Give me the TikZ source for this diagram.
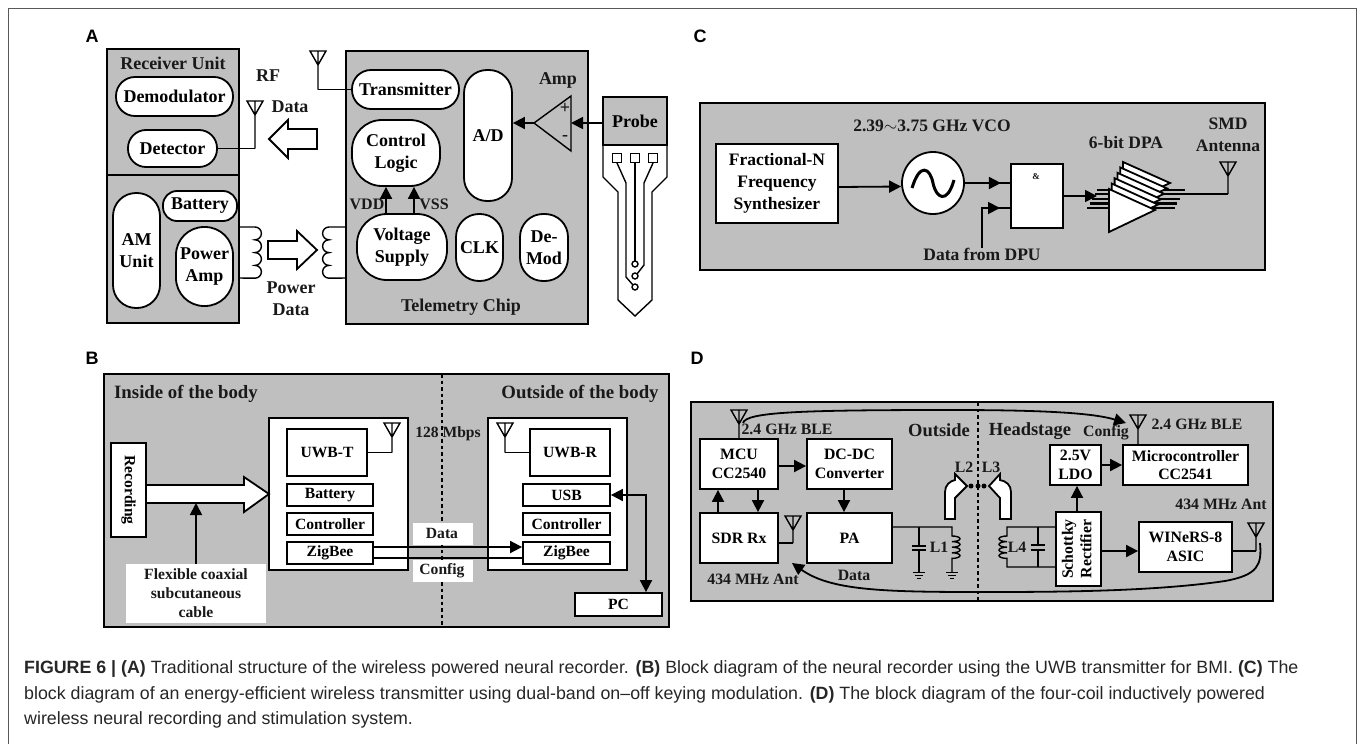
\documentclass[tikz,border=0pt]{standalone}
\usepackage{fontspec}
\setmainfont{Liberation Serif}
\newfontfamily\capfont{Liberation Sans}
\usetikzlibrary{positioning, calc, arrows.meta}
\definecolor{panelgray}{gray}{0.75}
\definecolor{framegray}{gray}{0.35}
\definecolor{captext}{gray}{0.15}
\newcommand{\panelfont}{\bfseries\fontsize{18}{22}\selectfont}
\tikzset{
    panel/.style={draw, line width=1.8pt, fill=panelgray},
    block/.style={draw, line width=1.8pt, fill=white, font=\panelfont, align=center, inner sep=0pt},
    pill/.style={block, rounded corners=#1},
    lbl/.style={font=\panelfont, align=center, inner sep=0pt, text=black!90},
    tagbg/.style={fill=white, inner sep=0pt},
    letter/.style={font=\capfont\bfseries\fontsize{18}{20}\selectfont, inner sep=0pt},
    wire/.style={line width=1.4pt},
    link/.style={line width=1.8pt},
    flow/.style={line width=1.8pt, -{Triangle[length=12pt,width=12pt]}},
    hollow/.style={draw, line width=1.8pt, fill=white, line join=miter},
    sep/.style={line width=2pt, dash pattern=on 3.5pt off 3pt},
    caption/.style={font=\capfont\fontsize{17.8}{20}\selectfont, anchor=base west, inner sep=0pt, text=captext},
}
% antenna: name, x, top, foot
\newcommand{\antenna}[4]{%
    \coordinate (#1) at (#2,#4);
    \draw[wire, line join=miter] (#1) -- (#2,#3+14) -- (#2-8,#3) -- (#2+8,#3) -- (#2,#3+14) -- (#2,#3);
}
% box given by its corners
\newcommand{\rbox}[7]{%
    \node[#2, minimum width=#6pt-#4pt, minimum height=#7pt-#5pt] (#1) at ({(#4+#6)/2},{(#5+#7)/2}) {#3};
}
\begin{document}
\begin{tikzpicture}[x=1pt, y=-1pt, >=Stealth]
    \useasboundingbox (0,0) rectangle (1358,744);

    % ==========================================
    % Frame and panel letters
    % ==========================================
    \draw[framegray, line width=1pt] (8,744) -- (8,8) -- (1356,8) -- (1356,744);
    \node[letter] (letterA) at (92,36) {A};
    \node[letter] (letterB) at (92,358) {B};
    \node[letter] (letterC) at (700,36) {C};
    \node[letter] (letterD) at (697,358) {D};

    % ==========================================
    % PANEL A: Wireless powered recorder
    % ==========================================
    \draw[panel] (107,49) rectangle (239,323);
    \draw[link] (107,175) -- (239,175);
    \node[lbl] (recvtitle) at (173,63) {Receiver Unit};
    \rbox{demod}{pill=19pt}{Demodulator}{116}{77}{233}{116}
    \rbox{detector}{pill=18pt}{Detector}{128}{130}{217}{167}
    \rbox{amunit}{pill=23pt}{AM\\Unit}{113}{193}{160}{308}
    \rbox{battery}{pill=14pt}{Battery}{163}{191}{237}{221}
    \rbox{poweramp}{pill=28pt}{Power\\Amp}{176}{227}{233}{306}

    \antenna{antdet}{255}{101}{148.5}
    \draw[wire] (detector.east) -- (antdet);
    \node[lbl] (rflabel) at (268,76) {RF};
    \node[lbl] (datalabel) at (290,107) {Data};
    \draw[hollow] (317,129) -- (288,129) -- (288,120) -- (269,139) -- (288,158) -- (288,149) -- (317,149) -- cycle;

    % Coils
    \draw[wire] (239,227) -- (255,227) arc (-90:90:6.4) arc (-90:90:6.4) arc (-90:90:6.4) arc (-90:90:6.4) -- (239,278);
    \draw[wire] (346,227) -- (329,227) arc (270:90:6.4) arc (270:90:6.4) arc (270:90:6.4) arc (270:90:6.4) -- (346,278);
    \draw[hollow] (268,241) -- (297,241) -- (297,231) -- (317,250) -- (297,269) -- (297,259) -- (268,259) -- cycle;
    \node[lbl] (powerlabel) at (291,298.5) {Power\\Data};

    % Telemetry chip
    \draw[panel] (346,51) rectangle (588,324);
    \rbox{transmitter}{pill=19pt}{Transmitter}{352}{70}{459}{109}
    \rbox{logic}{pill=30pt}{Control\\Logic}{352}{120}{440}{186}
    \rbox{adc}{pill=23pt}{A/D}{464}{70}{512}{201}
    \rbox{supply}{pill=30pt}{Voltage\\Supply}{357}{214}{447}{280}
    \rbox{clk}{pill=23pt}{CLK}{456}{214}{503}{281}
    \rbox{demodchip}{pill=23pt}{De-\\Mod}{520}{214}{568}{281}
    \node[lbl] (chiplabel) at (461,307) {Telemetry Chip};
    \node[lbl] (vddlabel) at (367,204) {\fontsize{16}{18}\selectfont VDD};
    \node[lbl] (vsslabel) at (434,204) {\fontsize{16}{18}\selectfont VSS};
    \draw[flow] ([xshift=-16pt]supply.north) -- ([xshift=-10pt]logic.south);
    \draw[flow] ([xshift=12pt]supply.north) -- ([xshift=18pt]logic.south);
    \antenna{anttx}{318}{51}{89.5}
    \draw[wire] (anttx) -- (transmitter.west);

    % Amplifier
    \coordinate (ampout) at (534,123);
    \coordinate (ampin) at (571,123);
    \draw[wire, line join=miter] (ampout) -- (571,96) -- (571,151) -- cycle;
    \node[lbl] (amplabel) at (558,80) {Amp};
    \node[lbl] (ampplus) at (565,108) {+};
    \node[lbl] (ampminus) at (565,138) {-};
    \draw[flow] (ampout) -- (ampout -| adc.east);

    % Probe
    \rbox{probe}{block, fill=panelgray}{Probe}{603}{97}{667}{145}
    \draw[wire] (603,145) -- (603,177) -- (618,192) -- (618,300) -- (635,316) -- (652,300) -- (652,192) -- (667,177) -- (667,145);
    \draw[flow] ([yshift=-2pt]probe.west) -- (ampin);
    \foreach \px in {617,635,653}
        \draw[wire] (\px-4.5,153.5) rectangle (\px+4.5,162.5);
    \draw[wire] (617,163) -- (626,183) -- (626,277) -- (633,285);
    \draw[wire] (635,163) -- (635,261);
    \draw[wire] (653,163) -- (644,183) -- (644,265) -- (637,274);
    \foreach \py in {264,276,287}
        \draw[wire] (635,\py) circle (3);

    % ==========================================
    % PANEL B: UWB recorder
    % ==========================================
    \renewcommand{\panelfont}{\bfseries\fontsize{15.6}{19}\selectfont}
    \draw[panel] (104,374) rectangle (669,627);
    \draw[sep] (442,374) -- (442,627);
    \node[lbl] (insidelabel) at (186,394) {\fontsize{18.8}{20}\selectfont Inside of the body};
    \node[lbl] (outsidelabel) at (580,394) {\fontsize{18.8}{20}\selectfont Outside of the body};
    \draw[link, fill=white] (269,418) rectangle (408,570);
    \draw[link, fill=white] (488,418) rectangle (627,570);
    \rbox{recording}{block}{\rotatebox{-90}{Recording}}{111}{443}{146}{537}
    \rbox{uwbt}{block}{UWB-T}{287}{429}{367}{476}
    \rbox{batteryT}{block}{Battery}{287}{484}{373}{506}
    \rbox{controlT}{block}{Controller}{287}{513}{373}{535}
    \rbox{zigbeeT}{block}{ZigBee}{287}{542}{373}{564}
    \rbox{uwbr}{block}{UWB-R}{530}{429}{610}{476}
    \rbox{usb}{block}{USB}{523}{484}{610}{506}
    \rbox{controlR}{block}{Controller}{523}{513}{610}{535}
    \rbox{zigbeeR}{block}{ZigBee}{523}{542}{610}{564}
    \rbox{pc}{block}{PC}{575}{593}{662}{616}
    \antenna{antuwbt}{392}{423}{452.5}
    \draw[wire] (uwbt.east) -- (antuwbt);
    \antenna{antuwbr}{505}{423}{452.5}
    \draw[wire] (antuwbr) -- (uwbr.west);
    \draw[hollow] (146,485) -- (244,485) -- (244,477) -- (269,494) -- (244,512) -- (244,503) -- (146,503) -- cycle;
    \node[tagbg, minimum width=140pt, minimum height=59pt] (cablebg) at (196,593.5) {};
    \node[lbl] (cablelabel) at (196,593.5) {Flexible coaxial\\subcutaneous\\cable};
    \coordinate (cablejoin) at (196,503);
    \draw[flow] (cablebg.north) -- (cablejoin);
    \node[lbl] (mbpslabel) at (448,434) {128 Mbps};
    \node[tagbg, minimum width=60pt, minimum height=22pt] (databg) at (443,534) {};
    \node[tagbg, minimum width=60pt, minimum height=22pt] (configbg) at (443,571) {};
    \node[lbl] (datatag) at (442,533) {Data};
    \node[lbl] (configtag) at (442,571) {Config};
    \draw[flow] ([yshift=6pt]zigbeeT.east) -- ([yshift=6pt]zigbeeR.west);
    \draw[link] ([yshift=-5pt]zigbeeT.east) -- ([yshift=-5pt]zigbeeR.west);
    \draw[link, {Triangle[length=12pt,width=12pt]}-{Triangle[length=12pt,width=12pt]}] (usb.east) -| ([xshift=27.5pt]pc.north);

    % ==========================================
    % PANEL C: Dual-band transmitter
    % ==========================================
    \renewcommand{\panelfont}{\bfseries\fontsize{17.5}{21.7}\selectfont}
    \draw[panel] (700,103) rectangle (1265,270);
    \rbox{synth}{block}{Fractional-N\\Frequency\\Synthesizer}{716}{144}{838}{223}
    \node[draw, line width=1.8pt, fill=white, circle, minimum size=62pt, inner sep=0pt] (vco) at (933,183) {};
    \draw[line width=3pt] (912,188) .. controls (920,162) and (930,168) .. (933,183) .. controls (936,198) and (947,205) .. (954,180);
    \node[lbl] (vcolabel) at (932,126) {2.39$\sim$3.75 GHz VCO};
    \draw[flow] ([yshift=-3.5pt]synth.east) -- ([yshift=-3.5pt]vco.west);
    \rbox{andgate}{block}{}{1011}{164}{1063}{228}
    \node[lbl] (andsign) at (1036,177) {\fontsize{9}{10}\selectfont \&};
    \draw[link] (vco.east) -- (vco.east -| andgate.west);
    \draw[flow] (vco.east) -- ++(36,0);
    \node[lbl] (dpulabel) at (982,254) {Data from DPU};
    \coordinate (dpuin) at (1011,208);
    \draw[link] (dpulabel.north) |- (dpuin);
    \draw[flow] ([xshift=-25pt]dpuin) -- ([xshift=-11pt]dpuin);
    \coordinate (dpain) at (1097,196);
    \draw[flow] (andgate.east) -- (dpain);
    % Stacked amplifier stages
    \foreach \i in {4,3,2,1,0}
        \draw[line width=2.2pt] (1087+2.6*\i,208-4.6*\i) -- (1175+2.4*\i,208-4.6*\i);
    \foreach \i in {5,4,3,2,1,0}
        \draw[link, fill=white, line join=miter]
            (1109+2.8*\i,189-5.4*\i) -- (1155+3*\i,210-5.4*\i) -- (1109+2.8*\i,232-5.4*\i) -- cycle;
    \node[lbl] (dpalabel) at (1126,143) {6-bit DPA};
    \coordinate (dpaout) at (1180,194);
    \antenna{antsmd}{1228}{162}{194}
    \draw[link] (dpaout) -- (antsmd);
    \node[lbl] (smdlabel) at (1228,135) {SMD\\Antenna};

    % ==========================================
    % PANEL D: Four-coil system
    % ==========================================
    \renewcommand{\panelfont}{\bfseries\fontsize{15.8}{18.5}\selectfont}
    \draw[panel] (691,402) rectangle (1273,601);
    \draw[sep] (978,402) -- (978,601);
    \rbox{mcu}{block}{MCU\\CC2540}{700}{439}{778}{489}
    \rbox{dcdc}{block}{DC-DC\\Converter}{807}{439}{892}{489}
    \rbox{sdr}{block}{SDR Rx}{700}{513}{778}{563}
    \rbox{pa}{block}{PA}{807}{513}{892}{563}
    \rbox{ldo}{block}{2.5V\\LDO}{1050}{445}{1101}{485}
    \rbox{micro}{block}{Microcontroller\\CC2541}{1123}{445}{1248}{485}
    \rbox{schottky}{block}{\rotatebox{90}{\begin{tabular}{@{}c@{}}Schottky\\Rectifier\end{tabular}}}{1056}{512}{1101}{586}
    \rbox{winers}{block}{WINeRS-8\\ASIC}{1139}{522}{1232}{572}
    \draw[flow] ([yshift=-2pt]mcu.east) -- ([yshift=-2pt]dcdc.west);
    \draw[flow] ([xshift=19pt]mcu.south) -- ([xshift=19pt]sdr.north);
    \draw[flow] ([xshift=-21pt]sdr.north) -- ([xshift=-21pt]mcu.south);
    \draw[flow] ([xshift=-5.5pt]dcdc.south) -- ([xshift=-5.5pt]pa.north);
    \draw[flow] (ldo.east) -- (micro.west);
    \draw[flow] ([xshift=-1.5pt]schottky.north) -- ([xshift=1.5pt]ldo.south);
    \draw[flow] ([yshift=-2pt]schottky.east) -- ([yshift=-4pt]winers.west);

    \antenna{antmcu}{739}{410}{439}
    \antenna{antmicro}{1138}{415}{445}
    \antenna{antsdr}{793}{516}{543}
    \antenna{antwin}{1256}{523}{551}
    \draw[wire] ([yshift=-5pt]sdr.east) -- (antsdr);
    \draw[wire] ([yshift=-4pt]winers.east) -- (antwin);
    \coordinate (configout) at (743,423);
    \coordinate (configin) at (1126,423);
    \coordinate (dataout) at (1260,543);
    \coordinate (datain) at (792,563);
    \draw[flow] (configout) .. controls (746,412) and (800,410) .. (950,410) .. controls (1030,410) and (1090,412) .. (configin);
    \draw[flow] (dataout) .. controls (1262,565) and (1258,575) .. (1225,581) .. controls (1150,592) and (1050,592) .. (977,592) .. controls (880,592) and (830,590) .. (datain);

    \node[lbl] (blelabelL) at (787,429) {2.4 GHz BLE};
    \node[lbl] (blelabelR) at (1197,424) {2.4 GHz BLE};
    \node[lbl] (outlabel) at (939,430) {\fontsize{18.5}{20}\selectfont Outside};
    \node[lbl] (headlabel) at (1030,431) {\fontsize{18.5}{20}\selectfont Headstage};
    \node[lbl] (configlabel) at (1106,433) {Config};
    \node[lbl] (antlabelL) at (753,579) {434 MHz Ant};
    \node[lbl] (antlabelR) at (1221,504) {434 MHz Ant};
    \node[lbl] (datalabelD) at (854,575) {Data};
    \node[lbl] (l1label) at (939,547) {L1};
    \node[lbl] (l2label) at (964,467) {L2};
    \node[lbl] (l3label) at (991,467) {L3};
    \node[lbl] (l4label) at (1017,547) {L4};

    % Hollow coupling arrows
    \draw[hollow] (945,519) -- (945,492) .. controls (945,485) and (950,481) .. (955,480) -- (955,474) -- (967,486) -- (955,498) -- (955,519) -- cycle;
    \draw[hollow] (1011,519) -- (1011,492) .. controls (1011,485) and (1006,481) .. (1000,480) -- (1000,474) -- (989,486) -- (1000,498) -- (1000,519) -- cycle;
    \foreach \dx in {971,978,984}
        \fill (\dx,486) circle (2.5);

    % Transmit tank
    \draw[wire] ([yshift=11pt]pa.east) -- (952,527) -- (952,536)
        \foreach \n in {1,2,3,4} {arc[start angle=-90, end angle=90, x radius=8, y radius=2.8]} -- (952,572);
    \draw[wire] (919,527) -- (919,546) (912,546) -- (926,546) (912,550) -- (926,550) (919,550) -- (919,572);
    % Receive tank
    \draw[wire] ([yshift=22pt]schottky.west) -- (1007,527) -- (1007,536)
        \foreach \n in {1,2,3,4} {arc[start angle=270, end angle=90, x radius=8, y radius=2.8]} -- (1007,567) -- ([yshift=-18pt]schottky.west);
    \draw[wire] (1038,527) -- (1038,545) (1031,545) -- (1045,545) (1031,550) -- (1045,550) (1038,550) -- (1038,567);
    % Grounds
    \foreach \gx in {919,952}
        \draw[line width=1pt] (\gx-6,572) -- (\gx+6,572) (\gx-4,575) -- (\gx+4,575) (\gx-2,578) -- (\gx+2,578);

    % ==========================================
    % Caption
    % ==========================================
    \node[caption] (capA) at (24,673) {\bfseries FIGURE 6 | (A) \mdseries Traditional structure of the wireless powered neural recorder. \bfseries (B) \mdseries Block diagram of the neural recorder using the UWB transmitter for BMI. \bfseries (C) \mdseries The};
    \node[caption] (capB) at (24,699) {block diagram of an energy-efficient wireless transmitter using dual-band on–off keying modulation. \bfseries (D) \mdseries The block diagram of the four-coil inductively powered};
    \node[caption] (capC) at (24,724) {wireless neural recording and stimulation system.};
\end{tikzpicture}
\end{document}
